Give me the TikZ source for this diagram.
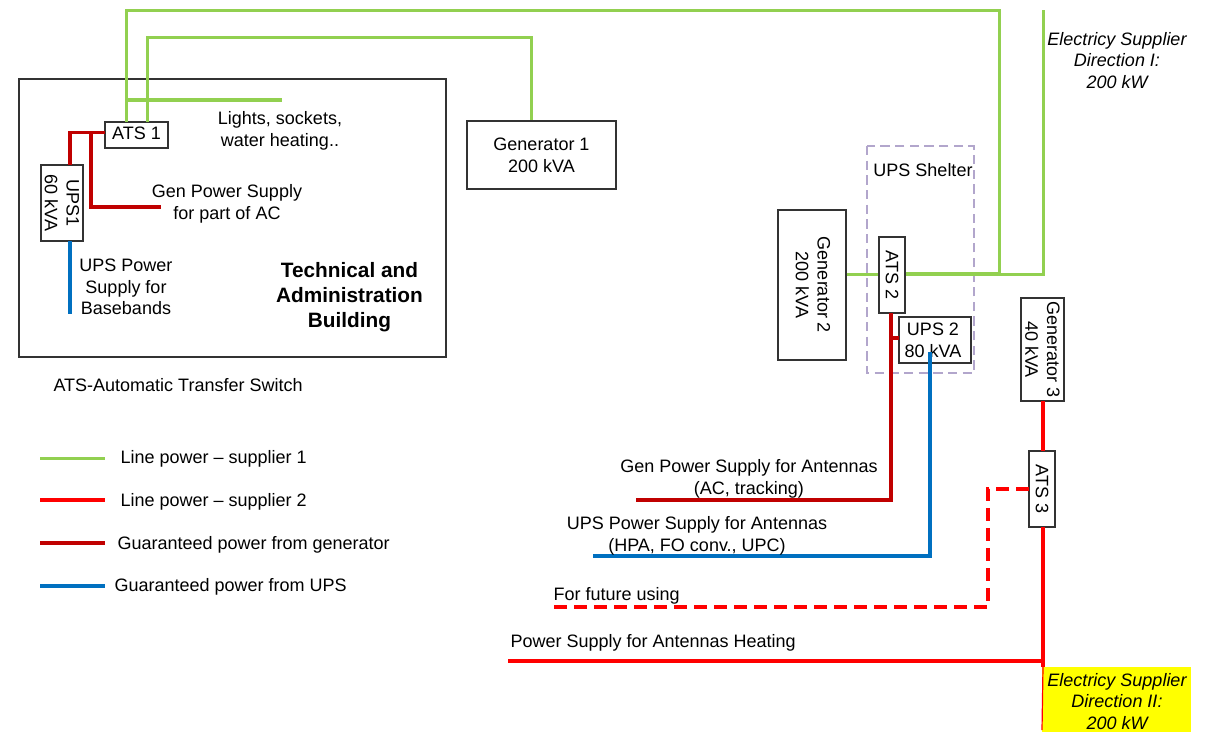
\documentclass[tikz,border=0pt]{standalone}
\usepackage{fontspec}
\setmainfont{Liberation Sans}

\tikzset{
    every picture/.style={line width=0.8pt},
    boxnode/.style={draw=black!80, rectangle, inner sep=0pt, align=center, font=\fontsize{13.5}{16.3}\selectfont},
    txtnode/.style={inner sep=0pt, align=center, font=\fontsize{13.5}{16.3}\selectfont},
    titlenode/.style={inner sep=0pt, align=center, font=\fontsize{15.6}{18.75}\bfseries\selectfont},
    supplier/.style={txtnode, font=\fontsize{13.5}{16.1}\itshape\selectfont},
    greenline/.style={draw={rgb, 255:red, 146; green, 208; blue, 80}, line width=2.25pt},
    redline/.style={draw={rgb, 255:red, 255; green, 0; blue, 0}, line width=2.3pt},
    genline/.style={draw={rgb, 255:red, 192; green, 0; blue, 0}, line width=2.4pt},
    upsline/.style={draw={rgb, 255:red, 0; green, 112; blue, 192}, line width=2.4pt},
}

\begin{document}
\begin{tikzpicture}[x=0.75pt,y=0.75pt,yscale=-1,xscale=1]
    \useasboundingbox (0,0) rectangle (1214,732);

    %Shape: Rectangle
    \draw [black!80] (19,79) rectangle (446,357);
    %Shape: Rectangle
    \draw [draw={rgb, 255:red, 178; green, 166; blue, 204}, dash pattern=on 7pt off 4pt] (867,146) rectangle (974,373);
    %Shape: Rectangle
    \fill [fill={rgb, 255:red, 255; green, 255; blue, 0}] (1042,667) rectangle (1191,732);

    % Boxes
    \draw (136.5,135) node (ats1) [boxnode, minimum width=47.25pt, minimum height=19.5pt] {\raisebox{2pt}{ATS 1}};
    \draw (62,203) node (ups1) [boxnode, rotate=-90, minimum width=57pt, minimum height=31.5pt] {UPS1\\60 kVA};
    \draw (541.5,155) node (gen1) [boxnode, minimum width=111.75pt, minimum height=51pt] {Generator 1\\200 kVA};
    \draw (812,285) node (gen2) [boxnode, rotate=-90, minimum width=112.5pt, minimum height=51pt] {\raisebox{1.5pt}{Generator 2}\\\raisebox{1.5pt}{200 kVA}};
    \draw (892,275) node (ats2) [boxnode, rotate=-90, minimum width=57pt, minimum height=19.5pt] {ATS 2};
    \draw (935,340) node (ups2) [boxnode, minimum width=54pt, minimum height=34.5pt] {UPS 2\hspace*{3pt}\\80 kVA\hspace*{3pt}};
    \draw (1042.5,349.5) node (gen3) [boxnode, rotate=-90, minimum width=77.25pt, minimum height=32.25pt] {Generator 3\\40 kVA};
    \draw (1042,489) node (ats3) [boxnode, rotate=-90, minimum width=57pt, minimum height=19.5pt] {ATS 3};

    % Corners of the lines
    \coordinate (topa) at (126,10);
    \coordinate (topb) at (999,10);
    \coordinate (juna) at (999,274);
    \coordinate (junb) at (1043,274);
    \coordinate (supa) at (1043,10);
    \coordinate (tapa) at (126,122);
    \coordinate (tapb) at (147,122);
    \coordinate (midb) at (147,37);
    \coordinate (midc) at (531,37);
    \coordinate (lighta) at (125,100);
    \coordinate (lightb) at (282,100);
    \coordinate (atsw) at (105,132.5);
    \coordinate (upsc) at (70,132.5);
    \coordinate (upsa) at (70,165);
    \coordinate (upsb) at (70,241);
    \coordinate (upsd) at (70,314);
    \coordinate (acb) at (91,132.5);
    \coordinate (acc) at (91,207);
    \coordinate (acd) at (161,207);
    \coordinate (gena) at (891,313);
    \coordinate (genb) at (891,500);
    \coordinate (genc) at (636,500);
    \coordinate (genj) at (891,338);
    \coordinate (genk) at (899,338);
    \coordinate (upsf) at (930,352);
    \coordinate (upsg) at (930,556);
    \coordinate (upsh) at (593,556);
    \coordinate (gthree) at (1043,401);
    \coordinate (athreen) at (1043,451);
    \coordinate (athrees) at (1043,527);
    \coordinate (heata) at (1043,661);
    \coordinate (heatb) at (508,661);
    \coordinate (supb) at (1043,667);
    \coordinate (supc) at (1042,730);
    \coordinate (futa) at (1029,489);
    \coordinate (futb) at (988,489);
    \coordinate (futc) at (988,607);
    \coordinate (futd) at (553,607);
    \coordinate (lega) at (40,458);
    \coordinate (legb) at (105,458);
    \coordinate (legc) at (40,500);
    \coordinate (legd) at (105,500);
    \coordinate (lege) at (40,543);
    \coordinate (legf) at (105,543);
    \coordinate (legg) at (40,586);
    \coordinate (legh) at (105,586);

    %Straight Lines
    \draw [greenline] (tapa) -- (topa) -- (topb) -- (juna);
    \draw [greenline] (tapb) -- (midb) -- (midc) -- (gen1.north -| midc);
    \draw [greenline, line width=2.6pt] (lighta) -- (lightb);
    \draw [greenline, line width=2.6pt] (ats2.north |- junb) -- (juna);
    \draw [greenline] (juna) -- (junb) -- (supa);
    \draw [greenline] (gen2.north |- junb) -- (ats2.south |- junb);
    %Straight Lines
    \draw [genline] (atsw) -- (upsc) -- (upsa);
    \draw [genline] (acb) -- (acc) -- (acd);
    \draw [upsline] (upsb) -- (upsd);
    %Straight Lines
    \draw [genline] (gena) -- (genb) -- (genc);
    \draw [genline] (genj) -- (genk);
    \draw [upsline] (upsf) -- (upsg) -- (upsh);
    %Straight Lines
    \draw [redline] (gthree) -- (athreen);
    \draw [redline] (athrees) -- (heata) -- (heatb);
    \draw [redline] (heata) -- (supb);
    \draw [redline, line width=0.9pt] (supb) -- (supc);
    \draw [redline, dash pattern=on 9.8pt off 5.2pt] (futa) -- (futb) -- (futc) -- (futd);
    %Legend
    \draw [greenline] (lega) -- (legb);
    \draw [redline] (legc) -- (legd);
    \draw [genline] (lege) -- (legf);
    \draw [upsline] (legg) -- (legh);

    % Text Node
    \draw (280,131) node (lights) [txtnode] {Lights, sockets,\\water heating..};
    % Text Node
    \draw (227,204) node (genpart) [txtnode] {Gen Power Supply\\for part of AC};
    % Text Node
    \draw (126,287) node (upsbase) [txtnode] {UPS Power\\Supply for\\Basebands};
    % Text Node
    \draw (349.5,297) node (building) [titlenode] {Technical and\\Administration\\Building};
    % Text Node
    \draw (53,385) node (atsnote) [txtnode, anchor=west] {ATS-Automatic Transfer Switch};
    % Text Node
    \draw (120,459) node (legone) [txtnode, anchor=west] {Line power – supplier 1};
    % Text Node
    \draw (120,502) node (legtwo) [txtnode, anchor=west] {Line power – supplier 2};
    % Text Node
    \draw (117,545) node (legthree) [txtnode, anchor=west] {Guaranteed power from generator};
    % Text Node
    \draw (114,587) node (legfour) [txtnode, anchor=west] {Guaranteed power from UPS};
    % Text Node
    \draw (923,170) node (shelter) [txtnode] {UPS Shelter};
    % Text Node
    \draw (1117,60.5) node (supone) [supplier] {Electricy Supplier\\Direction I:\\200 kW};
    % Text Node
    \draw (1117,701.5) node (suptwo) [supplier] {Electricy Supplier\\Direction II:\\200 kW};
    % Text Node
    \draw (749,478.5) node (genant) [txtnode] {Gen Power Supply for Antennas\\(AC, tracking)};
    % Text Node
    \draw (697,535.5) node (upsant) [txtnode] {UPS Power Supply for Antennas\\(HPA, FO conv., UPC)};
    % Text Node
    \draw (553,596) node (future) [txtnode, anchor=west] {For future using};
    % Text Node
    \draw (510,643) node (heating) [txtnode, anchor=west] {Power Supply for Antennas Heating};
\end{tikzpicture}
\end{document}
